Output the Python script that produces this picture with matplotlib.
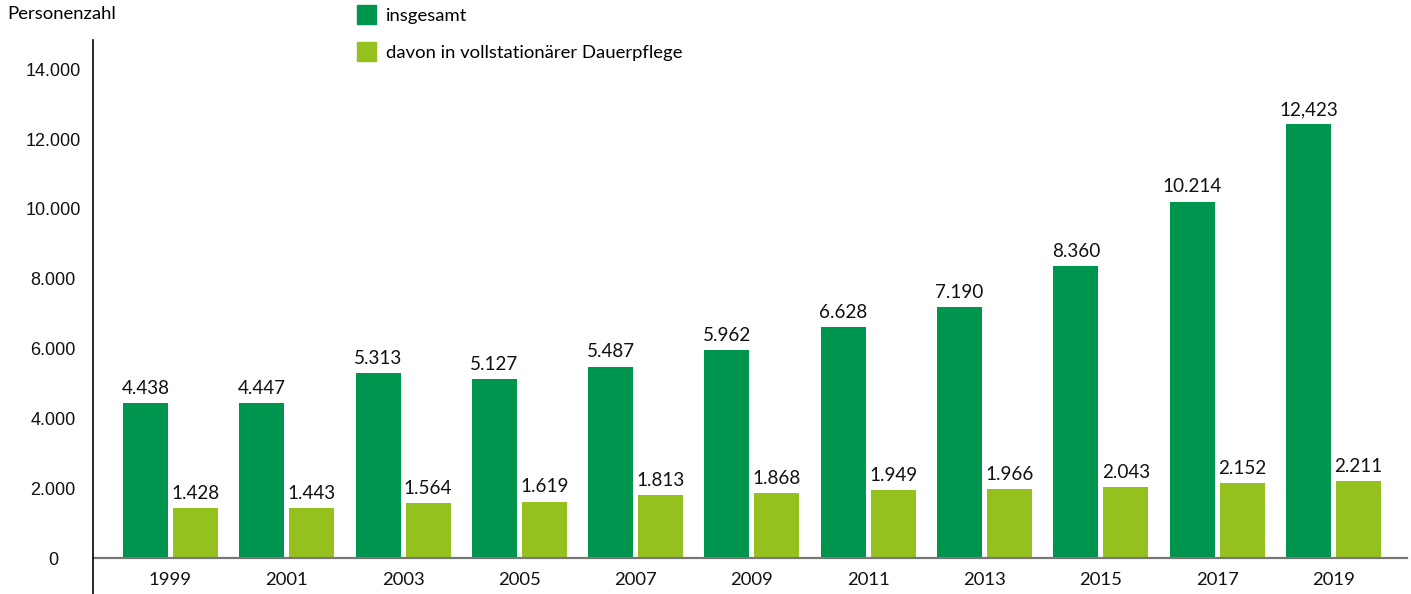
import matplotlib.pyplot as plt
from matplotlib.patches import Rectangle

# Data
years = ["1999", "2001", "2003", "2005", "2007", "2009", "2011", "2013", "2015", "2017", "2019"]
insgesamt = [4438, 4447, 5313, 5127, 5487, 5962, 6628, 7190, 8360, 10214, 12423]
dauerpflege = [1428, 1443, 1564, 1619, 1813, 1868, 1949, 1966, 2043, 2152, 2211]
label_insg = ["4.438", "4.447", "5.313", "5.127", "5.487", "5.962", "6.628", "7.190", "8.360", "10.214", "12,423"]
label_dauer = ["1.428", "1.443", "1.564", "1.619", "1.813", "1.868", "1.949", "1.966", "2.043", "2.152", "2.211"]
yticks = [0, 2000, 4000, 6000, 8000, 10000, 12000, 14000]
ytick_labels = ["0", "2.000", "4.000", "6.000", "8.000", "10.000", "12.000", "14.000"]

dark = "#00954f"
light = "#95c11f"

W, H = 1411, 594
fig = plt.figure(figsize=(W / 100, H / 100), dpi=100)
ax = fig.add_axes([93 / W, 0, (W - 93) / W, (H - 40) / H])

x = list(range(len(years)))
bw = 0.387
off = 0.215
ax.bar([i - off for i in x], insgesamt, width=bw, color=dark)
ax.bar([i + off for i in x], dauerpflege, width=bw, color=light)

for i in x:
    ax.annotate(label_insg[i], (i - off, insgesamt[i]), xytext=(0, 6.5), textcoords="offset points",
                ha="center", va="baseline", fontsize=13.6, family="Lato", color="#111111")
    ax.annotate(label_dauer[i], (i + off, dauerpflege[i]), xytext=(0, 6.5), textcoords="offset points",
                ha="center", va="baseline", fontsize=13.6, family="Lato", color="#111111")
    ax.text(i, -640, years[i], ha="center", va="center", fontsize=13.3, family="Lato", color="#111111")

ax.set_xlim(-0.666, 10.667)
ax.set_ylim(-1031, 14842)

# y labels centred left of the axis
ax.set_yticks(yticks)
ax.set_yticklabels(ytick_labels, family="Liberation Sans", fontsize=13, color="#111111", ha="center")
ax.tick_params(axis="y", length=0, pad=28.8)
ax.set_xticks([])

ax.axhline(0, xmin=0, xmax=(1407 - 93) / (W - 93), color="#777777", lw=1.6)
for s in ["top", "right", "bottom"]:
    ax.spines[s].set_visible(False)
ax.spines["left"].set_color("black")
ax.spines["left"].set_linewidth(1.2)

# title and legend
fig.text(7 / W, 1 - 14 / H, "Personenzahl", ha="left", va="center", fontsize=13.3, family="Lato")
for k, (col, lab) in enumerate([(dark, "insgesamt"), (light, "davon in vollstationärer Dauerpflege")]):
    ytop = 5 + k * 37
    fig.patches.append(Rectangle((357 / W, 1 - (ytop + 19) / H), 19 / W, 19 / H,
                                 transform=fig.transFigure, color=col, figure=fig))
    fig.text(386 / W, 1 - (ytop + 11) / H, lab, ha="left", va="center", fontsize=13.3, family="Lato")

fig.savefig("out.png", dpi=100)
